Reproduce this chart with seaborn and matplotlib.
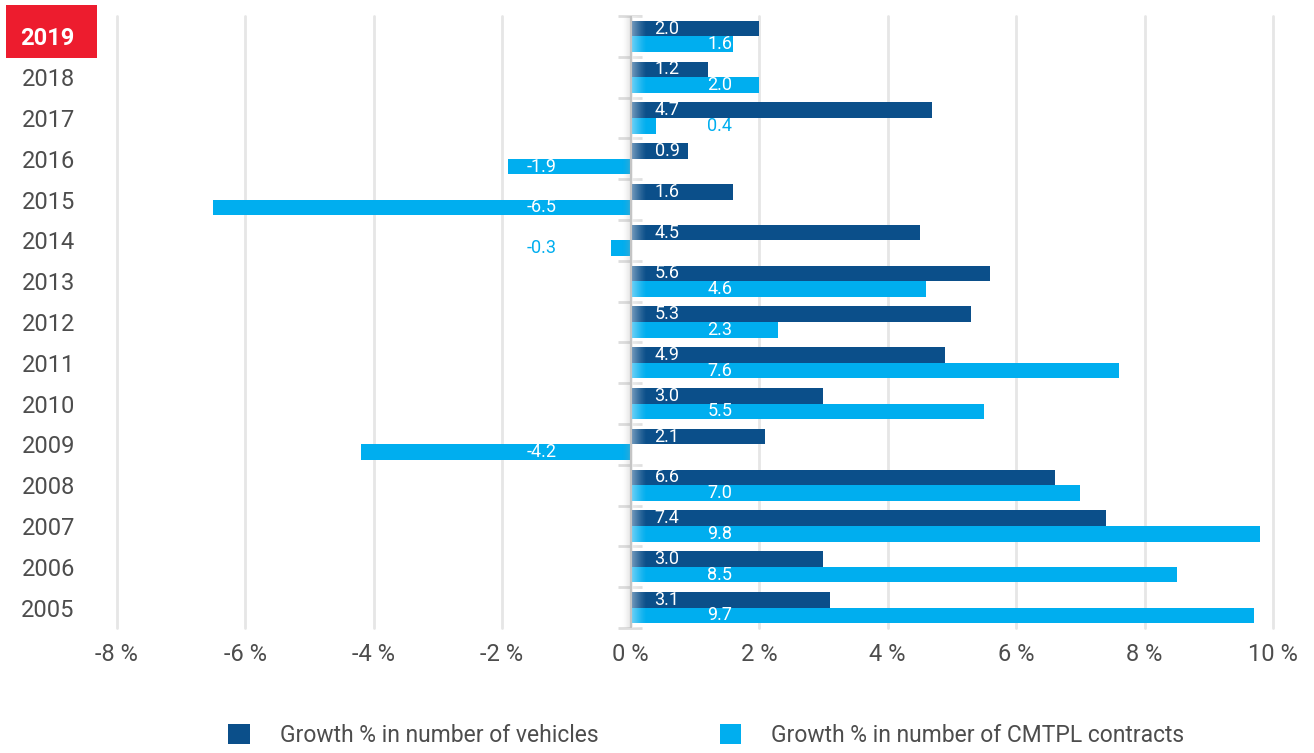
import numpy as np
import pandas as pd
import matplotlib
matplotlib.use("Agg")
import matplotlib.pyplot as plt
from matplotlib import font_manager as fm
from matplotlib.patches import Rectangle
import seaborn as sns

# ---- data -------------------------------------------------------------
years = ["2019", "2018", "2017", "2016", "2015", "2014", "2013", "2012",
         "2011", "2010", "2009", "2008", "2007", "2006", "2005"]
vehicles = [2.0, 1.2, 4.7, 0.9, 1.6, 4.5, 5.6, 5.3, 4.9, 3.0, 2.1, 6.6, 7.4, 3.0, 3.1]
contracts = [1.6, 2.0, 0.4, -1.9, -6.5, -0.3, 4.6, 2.3, 7.6, 5.5, -4.2, 7.0, 9.8, 8.5, 9.7]
series_names = ["Growth % in number of vehicles",
                "Growth % in number of CMTPL contracts"]
x_ticks = [-8, -6, -4, -2, 0, 2, 4, 6, 8, 10]
x_tick_labels = ["-8 %", "-6 %", "-4 %", "-2 %", "0 %",
                 "2 %", "4 %", "6 %", "8 %", "10 %"]

# ---- style --------------------------------------------------------------
DARK = "#0b4f8a"
LIGHT = "#00aeef"
RED = "#ed1c2e"
TEXT = "#4d4d4d"
GRID = "#e6e6e6"

sns.set_theme(style="white")
installed = {f.name for f in fm.fontManager.ttflist}
family = "Liberation Sans Narrow" if "Liberation Sans Narrow" in installed else "Roboto"
plt.rcParams["font.family"] = [family, "DejaVu Sans"]

df = pd.DataFrame({
    "year": years * 2,
    "value": vehicles + contracts,
    "series": [series_names[0]] * len(years) + [series_names[1]] * len(years),
})

W, H = 1314, 753
fig = plt.figure(figsize=(W / 100, H / 100), dpi=100)
ax = fig.add_axes([116.5 / W, 1 - 628 / H, (1273 - 116.5) / W, (628 - 16) / H])

sns.barplot(data=df, y="year", x="value", hue="series", order=years,
            hue_order=series_names, palette=[DARK, LIGHT], orient="h",
            width=0.76, gap=0, saturation=1, linewidth=0, errorbar=None, ax=ax)

ax.set_xlim(-8, 10)
ax.set_ylim(len(years) - 0.5, -0.5)
ax.set_xticks(x_ticks)
ax.set_xticklabels(x_tick_labels)
ax.set_xlabel("")
ax.set_ylabel("")
for s in ax.spines.values():
    s.set_visible(False)

ax.grid(axis="x", color=GRID, linewidth=2)
ax.grid(axis="y", visible=False)
ax.set_axisbelow(True)
for gl in ax.get_xgridlines():
    gl.set_clip_on(False)

ax.tick_params(axis="y", length=16, width=1.6, color=GRID, pad=14,
               labelsize=17, labelcolor=TEXT)
ax.tick_params(axis="x", length=0, pad=11, labelsize=17, labelcolor=TEXT)

# highlight the latest year
first = ax.get_yticklabels()[0]
first.set_color("white")
first.set_fontweight("bold")
fig.patches.append(Rectangle((6 / W, 1 - 58 / H), 91 / W, 53 / H,
                             transform=fig.transFigure, facecolor=RED,
                             edgecolor="none", zorder=-1))

# short separators on the zero axis between year groups
bounds = np.arange(len(years) + 1) - 0.5
ax.hlines(bounds, -0.2, 0.18, color="#dddddd", linewidth=2, zorder=1.5,
          clip_on=False)

# soft shading along the zero axis
n = 64
yl = ax.get_ylim()
left = np.zeros((1, n, 4))
left[..., :3] = 0.62
left[0, :, 3] = np.linspace(0, 0.45, n) ** 1.5
ax.imshow(left, extent=[-0.13, 0.0, yl[0], yl[1]], aspect="auto",
          interpolation="bilinear", zorder=3)
right = np.ones((1, n, 4))
right[0, :, 3] = np.linspace(0.55, 0, n) ** 1.3
ax.imshow(right, extent=[0.0, 0.24, yl[0], yl[1]], aspect="auto",
          interpolation="bilinear", zorder=3)
ax.axvline(0, color="#c4c4c4", linewidth=1.5, zorder=3.2)
ax.set_xlim(-8, 10)
ax.set_ylim(*yl)

# value labels
label_x = {"dark": 0.57, "pos": 1.39, "neg": -1.38}
for container, vals, col in zip(ax.containers, [vehicles, contracts], [DARK, LIGHT]):
    for bar, v in zip(container, vals):
        yc = bar.get_y() + bar.get_height() / 2
        if col == DARK:
            xp = label_x["dark"]
        else:
            xp = label_x["pos"] if v >= 0 else label_x["neg"]
        inside = abs(v) >= abs(xp) + 0.15
        ax.text(xp, yc, f"{v:.1f}", ha="center", va="center", fontsize=13,
                color="white" if inside else col, zorder=5)

# legend
handles, labels = ax.get_legend_handles_labels()
if ax.get_legend() is not None:
    ax.get_legend().remove()
fig.legend(handles, labels, loc="upper left", ncol=2, frameon=False,
           bbox_to_anchor=(228 / W, 1 - 724 / H), fontsize=16.5, labelcolor=TEXT,
           handlelength=0.95, handleheight=0.95, handletextpad=1.3,
           columnspacing=5.3, borderpad=0, borderaxespad=0)

fig.savefig("out.png", dpi=100, facecolor="white")
